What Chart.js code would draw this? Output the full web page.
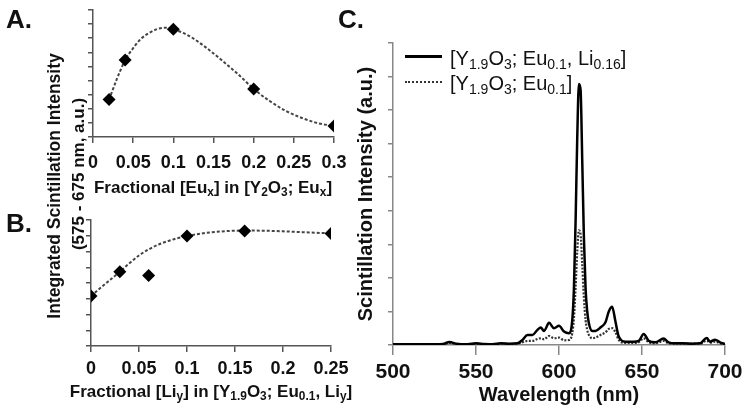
<!DOCTYPE html>
<html>
<head>
<meta charset="utf-8">
<script src="https://cdn.jsdelivr.net/npm/chart.js@4.4.0/dist/chart.umd.min.js"></script>
<style>
  body { margin: 0; background: #fff; }
  #wrap { position: relative; width: 750px; height: 417px; overflow: hidden;
          font-family: "Liberation Sans", Arial, sans-serif; color: #111; }
  canvas { position: absolute; }
  .lbl { position: absolute; white-space: nowrap; line-height: 1; transform: translate(-50%, -50%); }
  .b { font-weight: bold; }
  sub { font-size: 0.7em; vertical-align: -0.3em; line-height: 0; }
  .leg { position: absolute; white-space: nowrap; line-height: 1; font-size: 20px; transform: translate(0, -50%); }
</style>
</head>
<body>
<div id="wrap">
  <canvas id="chartA" width="380" height="200" style="left:0;top:0"></canvas>
  <canvas id="chartB" width="380" height="217" style="left:0;top:200px"></canvas>
  <canvas id="chartC" width="410" height="417" style="left:340px;top:0"></canvas>

  <div class="lbl b" style="left:19px;top:19px;font-size:26px">A.</div>
  <div class="lbl b" style="left:19px;top:223px;font-size:26px">B.</div>
  <div class="lbl b" style="left:351px;top:19px;font-size:26px">C.</div>

  <div class="lbl b" style="left:55px;top:186px;font-size:17.5px;transform:translate(-50%,-50%) rotate(-90deg)">Integrated Scintillation Intensity</div>
  <div class="lbl b" style="left:78px;top:174px;font-size:17px;transform:translate(-50%,-50%) rotate(-90deg)">(575 - 675 nm, a.u.)</div>

  <div class="lbl b" style="left:213px;top:187px;font-size:17px">Fractional [Eu<sub>x</sub>] in [Y<sub>2</sub>O<sub>3</sub>; Eu<sub>x</sub>]</div>
  <div class="lbl b" style="left:211px;top:391px;font-size:17px">Fractional [Li<sub>y</sub>] in [Y<sub>1.9</sub>O<sub>3</sub>; Eu<sub>0.1</sub>, Li<sub>y</sub>]</div>

  <div style="position:absolute;left:405px;top:55px;width:37px;border-top:3px solid #000"></div>
  <div class="leg" style="left:450px;top:58px">[Y<sub>1.9</sub>O<sub>3</sub>; Eu<sub>0.1</sub>, Li<sub>0.16</sub>]</div>
  <div style="position:absolute;left:405px;top:81px;width:37px;border-top:2px dotted #333"></div>
  <div class="leg" style="left:450px;top:83px">[Y<sub>1.9</sub>O<sub>3</sub>; Eu<sub>0.1</sub>]</div>
</div>

<script>
// panel A: Eu concentration series
const euFrac = [0.02, 0.04, 0.1, 0.2, 0.3];
const euIntensity = [2.65, 5.45, 7.63, 3.41, 0.78];
const euFitX = [0.02, 0.03, 0.04, 0.05, 0.06, 0.07, 0.08, 0.09, 0.1, 0.12, 0.14, 0.16, 0.18, 0.2, 0.22, 0.24, 0.26, 0.28, 0.3];
const euFitY = [2.65, 4.15, 5.45, 6.3, 6.97, 7.38, 7.65, 7.75, 7.63, 7.15, 6.37, 5.45, 4.48, 3.41, 2.55, 1.85, 1.35, 0.98, 0.78];
const euTicks = [0, 0.05, 0.1, 0.15, 0.2, 0.25, 0.3];

// panel B: Li concentration series
const liFrac = [0, 0.03, 0.06, 0.1, 0.16, 0.25];
const liIntensity = [3.18, 4.71, 4.48, 6.98, 7.3, 7.15];
const liFitX = [0, 0.01, 0.02, 0.03, 0.04, 0.05, 0.06, 0.07, 0.08, 0.09, 0.1, 0.12, 0.14, 0.16, 0.18, 0.2, 0.22, 0.25];
const liFitY = [3.18, 3.7, 4.2, 4.71, 5.25, 5.75, 6.13, 6.43, 6.66, 6.84, 6.98, 7.18, 7.29, 7.33, 7.32, 7.28, 7.23, 7.15];
const liTicks = [0, 0.05, 0.1, 0.15, 0.2, 0.25];

// panel C: emission spectra
const wavelength = [500, 510, 520, 530, 534, 538, 545, 550, 555, 560, 565, 570, 575, 578, 581, 584, 587, 589, 591, 594, 597, 600, 603, 606, 608, 609, 610, 611, 612, 613, 614, 615, 616, 617, 618, 620, 622, 625, 628, 630, 632, 634, 636, 640, 645, 648, 651, 654, 658, 663, 666, 670, 675, 680, 685, 689, 691, 694, 697, 700];
const withLi = [0.02, 0.02, 0.02, 0.03, 0.09, 0.04, 0.02, 0.05, 0.03, 0.02, 0.05, 0.04, 0.05, 0.15, 0.3, 0.3, 0.45, 0.52, 0.42, 0.66, 0.5, 0.57, 0.4, 0.35, 0.75, 1.7, 3.7, 6.2, 7.78, 7.6, 5.5, 3.2, 1.7, 1.0, 0.65, 0.42, 0.42, 0.52, 0.68, 1.0, 1.14, 0.7, 0.25, 0.1, 0.1, 0.12, 0.33, 0.13, 0.08, 0.19, 0.08, 0.05, 0.05, 0.04, 0.05, 0.21, 0.1, 0.16, 0.08, 0.03];
const withoutLi = [0.02, 0.02, 0.02, 0.02, 0.06, 0.03, 0.02, 0.04, 0.02, 0.02, 0.04, 0.03, 0.04, 0.08, 0.12, 0.12, 0.18, 0.2, 0.17, 0.27, 0.2, 0.22, 0.14, 0.15, 0.35, 0.8, 1.7, 2.8, 3.42, 3.3, 2.4, 1.4, 0.75, 0.45, 0.3, 0.2, 0.22, 0.3, 0.38, 0.48, 0.5, 0.38, 0.15, 0.06, 0.06, 0.08, 0.2, 0.08, 0.05, 0.12, 0.05, 0.04, 0.04, 0.04, 0.04, 0.13, 0.07, 0.1, 0.05, 0.02];
const wlTicks = [500, 550, 600, 650, 700];

const tickFont = { family: 'Liberation Sans', weight: 'bold' };

function pairs(xs, ys) {
  return xs.map((x, i) => ({ x: x, y: ys[i] }));
}

function sideChart(id, px, py, fx, fy, xTicks, yMax, pad, yAxisW, xAxisH, labelPad) {
  return new Chart(document.getElementById(id), {
    type: 'scatter',
    data: {
      datasets: [
        { data: pairs(px, py), pointStyle: 'rectRot', pointRadius: 6.5,
          backgroundColor: '#000', borderColor: '#000', borderWidth: 0 },
        { data: pairs(fx, fy), showLine: true, pointRadius: 0, borderColor: '#444',
          borderWidth: 2, borderDash: [3, 2], cubicInterpolationMode: 'monotone', fill: false }
      ]
    },
    options: {
      responsive: false, animation: false, devicePixelRatio: 1,
      layout: { padding: pad },
      plugins: { legend: { display: false }, tooltip: { enabled: false } },
      scales: {
        x: {
          type: 'linear', min: 0, max: xTicks[xTicks.length - 1],
          afterBuildTicks: s => { s.ticks = xTicks.map(v => ({ value: v })); },
          afterFit: s => { s.height = xAxisH; },
          grid: { drawOnChartArea: false, tickLength: 6, color: '#555', lineWidth: 1.5 },
          border: { color: '#555', width: 1.5 },
          ticks: { color: '#111', padding: labelPad, maxRotation: 0, autoSkip: false,
                   font: Object.assign({ size: 18 }, tickFont), callback: v => String(v) }
        },
        y: {
          min: 0, max: yMax,
          afterFit: s => { s.width = yAxisW; },
          grid: { drawOnChartArea: false, tickLength: 5, color: '#555', lineWidth: 1.5 },
          border: { color: '#555', width: 1.5 },
          ticks: { display: false, stepSize: 1 }
        }
      }
    }
  });
}

sideChart('chartA', euFrac, euIntensity, euFitX, euFitY, euTicks, 9,
  { top: 10, right: 46, left: 0, bottom: 0 }, 93, 63, 9);
sideChart('chartB', liFrac, liIntensity, liFitX, liFitY, liTicks, 8,
  { top: 20, right: 49, left: 0, bottom: 0 }, 91, 71, 6);

new Chart(document.getElementById('chartC'), {
  type: 'scatter',
  data: {
    datasets: [
      { data: pairs(wavelength, withLi), showLine: true, pointRadius: 0, borderColor: '#000',
        borderWidth: 2.5, cubicInterpolationMode: 'monotone', fill: false },
      { data: pairs(wavelength, withoutLi), showLine: true, pointRadius: 0, borderColor: '#333',
        borderWidth: 2.2, borderDash: [2, 1.5], cubicInterpolationMode: 'monotone', fill: false }
    ]
  },
  options: {
    responsive: false, animation: false, devicePixelRatio: 1,
    layout: { padding: { top: 43, right: 25, left: 0, bottom: 0 } },
    plugins: { legend: { display: false }, tooltip: { enabled: false } },
    scales: {
      x: {
        type: 'linear', min: 500, max: 700,
        afterBuildTicks: s => { s.ticks = wlTicks.map(v => ({ value: v })); },
        afterFit: s => { s.height = 72; },
        grid: { drawOnChartArea: false, tickLength: 10, color: '#888', lineWidth: 1.5 },
        border: { color: '#888', width: 1.5 },
        ticks: { color: '#111', padding: 5, maxRotation: 0, autoSkip: false,
                 font: Object.assign({ size: 21 }, tickFont), callback: v => String(v) },
        title: { display: true, text: 'Wavelength (nm)', color: '#111',
                 font: Object.assign({ size: 20 }, tickFont), padding: { top: 0, bottom: 10 } }
      },
      y: {
        min: 0, max: 9,
        afterFit: s => { s.width = 53; },
        grid: { drawOnChartArea: false, tickLength: 5, color: '#888', lineWidth: 1.5 },
        border: { color: '#888', width: 1.5 },
        ticks: { display: false, stepSize: 1 },
        title: { display: true, text: 'Scintillation Intensity (a.u.)', color: '#111',
                 font: Object.assign({ size: 20 }, tickFont), padding: { top: 14, bottom: 0 } }
      }
    }
  }
});
</script>
</body>
</html>
